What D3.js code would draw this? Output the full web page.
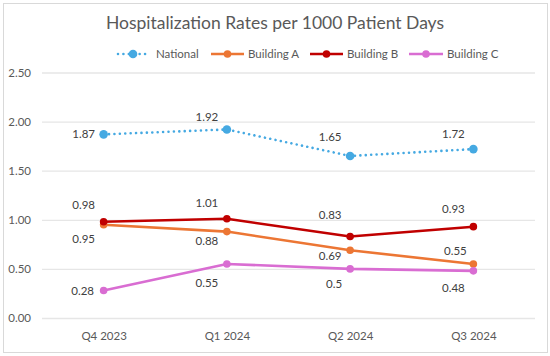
<!DOCTYPE html>
<html><head><meta charset="utf-8">
<script src="https://cdn.jsdelivr.net/npm/d3@7"></script>
<style>
html,body{margin:0;padding:0;background:#fff;}
svg{display:block;font-family:Lato,"Open Sans",sans-serif;}
</style></head><body>
<svg id="c" width="550" height="356"></svg>
<script>
const title = "Hospitalization Rates per 1000 Patient Days";
const categories = ["Q4 2023", "Q1 2024", "Q2 2024", "Q3 2024"];
const seriesNames = ["National", "Building A", "Building B", "Building C"];
const national  = [1.87, 1.92, 1.65, 1.72];
const buildingA = [0.95, 0.88, 0.69, 0.55];
const buildingB = [0.98, 1.01, 0.83, 0.93];
const buildingC = [0.28, 0.55, 0.5, 0.48];
const yTicks = [0, 0.5, 1, 1.5, 2, 2.5];
const labelTexts = {
  "National":   ["1.87", "1.92", "1.65", "1.72"],
  "Building A": ["0.95", "0.88", "0.69", "0.55"],
  "Building B": ["0.98", "1.01", "0.83", "0.93"],
  "Building C": ["0.28", "0.55", "0.5", "0.48"]
};

// styling (not data)
const colors = {"National":"#45A9E2","Building A":"#EC7634","Building B":"#C00000","Building C":"#D96DD2"};
const labelOffsets = {
  "National":   [[-20,0],[-20,-12],[-20,-19],[-20,-15]],
  "Building A": [[-20,14],[-20,9],[-20,6],[-18,-13]],
  "Building B": [[-20,-17],[-20,-16],[-20,-22],[-20,-18]],
  "Building C": [[-21,0],[-20,19],[-16,15],[-20,17]]
};

const series = [
  {name: seriesNames[0], values: national, dotted: true},
  {name: seriesNames[1], values: buildingA},
  {name: seriesNames[2], values: buildingB},
  {name: seriesNames[3], values: buildingC}
];

const svg = d3.select("#c");
svg.append("rect").attr("x",3.5).attr("y",3.5).attr("width",544).attr("height",349)
  .attr("fill","#fff").attr("stroke","#D9D9D9").attr("stroke-width",1);

const plot = {left:42, right:535, top:72.5, bottom:318};
const x = d3.scalePoint().domain(categories).range([plot.left, plot.right]).padding(0.5);
const y = d3.scaleLinear().domain([0, 2.5]).range([plot.bottom, plot.top]);

svg.append("text").attr("x",275).attr("y",29).attr("text-anchor","middle")
  .attr("font-size",17.5).attr("fill","#595959").text(title);

const yAxis = d3.axisLeft(y).tickValues(yTicks).tickFormat(d3.format(".2f"))
  .tickSize(-(plot.right-plot.left)).tickPadding(11);
const gy = svg.append("g").attr("transform",`translate(${plot.left},0)`).call(yAxis);
gy.select(".domain").remove();
gy.selectAll(".tick line").attr("stroke","#E6E6E6").attr("stroke-width",1.3);
gy.selectAll(".tick text").attr("fill","#595959").attr("font-size",11.5)
  .attr("font-family","Lato, 'Open Sans', sans-serif");

const xAxis = d3.axisBottom(x).tickSize(0).tickPadding(14);
const gx = svg.append("g").attr("transform",`translate(0,${plot.bottom})`).call(xAxis);
gx.select(".domain").remove();
gx.selectAll(".tick text").attr("fill","#595959").attr("font-size",11.5)
  .attr("font-family","Lato, 'Open Sans', sans-serif");

const line = d3.line().x((d,i)=>x(categories[i])).y(d=>y(d));

series.forEach(s => {
  const g = svg.append("g");
  const c = colors[s.name];
  const p = g.append("path").datum(s.values).attr("d", line).attr("fill","none")
    .attr("stroke", c);
  if (s.dotted) {
    p.attr("stroke-width",2.6).attr("stroke-dasharray","0.01 5.4").attr("stroke-linecap","round");
  } else {
    p.attr("stroke-width",2.6).attr("stroke-linejoin","round");
  }
  g.selectAll("circle").data(s.values).join("circle")
    .attr("cx",(d,i)=>x(categories[i])).attr("cy",d=>y(d))
    .attr("r", s.dotted ? 4.3 : 3.8).attr("fill", c);
  g.selectAll("text").data(s.values).join("text")
    .attr("x",(d,i)=>x(categories[i]) + labelOffsets[s.name][i][0])
    .attr("y",(d,i)=>y(d) + labelOffsets[s.name][i][1])
    .attr("dy","0.35em").attr("text-anchor","middle")
    .attr("font-size",11.5).attr("fill","#404040")
    .text((d,i)=>labelTexts[s.name][i]);
});

const legendItems = [
  {name: seriesNames[0], x0:118, x1:148, tx:156, dotted:true},
  {name: seriesNames[1], x0:211, x1:244, tx:248},
  {name: seriesNames[2], x0:310, x1:343, tx:347},
  {name: seriesNames[3], x0:409, x1:443, tx:447}
];
const ly = 54;
legendItems.forEach(it => {
  const c = colors[it.name];
  const l = svg.append("line").attr("x1",it.x0).attr("x2",it.x1).attr("y1",ly).attr("y2",ly)
    .attr("stroke",c).attr("stroke-width",2.6);
  if (it.dotted) l.attr("stroke-dasharray","0.01 5.4").attr("stroke-linecap","round");
  svg.append("circle").attr("cx",(it.x0+it.x1)/2).attr("cy",ly).attr("r", it.dotted?4.3:3.8).attr("fill",c);
  svg.append("text").attr("x",it.tx).attr("y",ly).attr("dy","0.35em")
    .attr("font-size",11.5).attr("fill","#595959").text(it.name);
});
</script>
</body></html>
